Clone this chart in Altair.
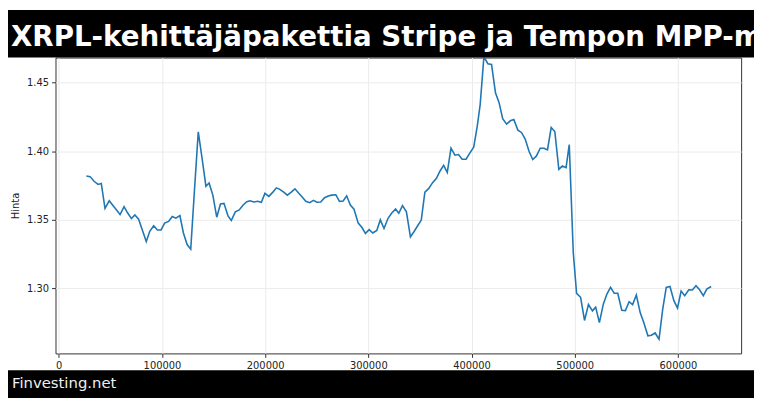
import altair as alt
import pandas as pd

# kuvasta luetut pisteet
x_vals = [
    26800, 30400, 34200, 38100, 41200, 44800, 48900, 52700, 56000, 59400,
    63300, 66500, 70400, 73800, 77400, 80900, 84800, 88200, 92000, 95600,
    99100, 102600, 106400, 110000, 113500, 117400, 120800, 124400, 127900, 131500,
    135200, 138900, 142600, 145700, 149300, 153100, 156700, 160100, 164000, 167200,
    171100, 174900, 178700, 182200, 185400, 188900, 192700, 196300, 199800, 203600,
    207500, 210900, 214200, 218000, 221500, 225300, 228900, 232400, 235900, 239400,
    243200, 246800, 250200, 253800, 257600, 261200, 264600, 268500, 272000, 275600,
    279000, 282600, 286100, 290200, 293800, 297200, 300800, 304300, 308200, 311600,
    315200, 319000, 322500, 326400, 329500, 333100, 336900, 340800, 344200, 347800,
    351300, 354800, 358600, 362100, 366000, 369500, 373000, 376500, 380100, 383900,
    387400, 390900, 394700, 398300, 402100, 405600, 408400, 412000, 415800, 419400,
    423200, 426700, 430200, 434000, 437600, 441000, 444900, 448400, 452000, 455800,
    459300, 462800, 466600, 470200, 473600, 477200, 480700, 484600, 488000, 491600,
    494700, 498600, 501800, 505700, 509500, 513300, 517200, 520300, 523900, 527700,
    531200, 534700, 538300, 541700, 545600, 549100, 552700, 556100, 559700, 563500,
    567000, 570900, 574300, 577900, 581700, 585300, 588700, 592300, 596100, 599600,
    603100, 606600, 610500, 614000, 617500, 621000, 624600, 628000, 632200,
]
prices = [
    1.3820, 1.3815, 1.3781, 1.3758, 1.3765, 1.3584, 1.3639, 1.3603, 1.3572, 1.3538,
    1.3596, 1.3553, 1.3509, 1.3536, 1.3505, 1.3428, 1.3341, 1.3416, 1.3457, 1.3426,
    1.3426, 1.3476, 1.3488, 1.3524, 1.3512, 1.3531, 1.3404, 1.3320, 1.3286, 1.3714,
    1.4142, 1.3947, 1.3745, 1.3769, 1.3680, 1.3519, 1.3615, 1.3620, 1.3529, 1.3495,
    1.3558, 1.3572, 1.3608, 1.3632, 1.3639, 1.3630, 1.3635, 1.3628, 1.3693, 1.3671,
    1.3702, 1.3733, 1.3722, 1.3702, 1.3680, 1.3702, 1.3726, 1.3695, 1.3666, 1.3635,
    1.3625, 1.3642, 1.3628, 1.3630, 1.3661, 1.3673, 1.3680, 1.3683, 1.3635, 1.3637,
    1.3675, 1.3608, 1.3577, 1.3476, 1.3444, 1.3401, 1.3428, 1.3404, 1.3423, 1.3500,
    1.3437, 1.3509, 1.3548, 1.3579, 1.3548, 1.3603, 1.3558, 1.3375, 1.3413, 1.3457,
    1.3498, 1.3702, 1.3729, 1.3769, 1.3803, 1.3856, 1.3897, 1.3846, 1.4022, 1.3971,
    1.3976, 1.3942, 1.3942, 1.3986, 1.4029, 1.4185, 1.4342, 1.4690, 1.4638, 1.4633,
    1.4426, 1.4354, 1.4238, 1.4198, 1.4222, 1.4231, 1.4154, 1.4137, 1.4089, 1.3998,
    1.3940, 1.3964, 1.4022, 1.4022, 1.4010, 1.4173, 1.4144, 1.3868, 1.3892, 1.3880,
    1.4048, 1.3260, 1.2964, 1.2935, 1.2766, 1.2882, 1.2836, 1.2863, 1.2750, 1.2885,
    1.2959, 1.3007, 1.2964, 1.2964, 1.2841, 1.2838, 1.2903, 1.2882, 1.2952, 1.2822,
    1.2750, 1.2654, 1.2658, 1.2675, 1.2629, 1.2851, 1.3007, 1.3014, 1.2911, 1.2856,
    1.2981, 1.2947, 1.2990, 1.2988, 1.3019, 1.2990, 1.2947, 1.2995, 1.3014,
]
x_ticks = [0, 100000, 200000, 300000, 400000, 500000, 600000]
y_ticks = [1.30, 1.35, 1.40, 1.45]

TITLE = "XRPL-kehittäjäpakettia Stripe ja Tempon MPP-maksuilla"
FOOTER = "Finvesting.net"

df = pd.DataFrame({"x": x_vals, "hinta": prices})
one = pd.DataFrame({"k": [0]})

W, H = 693, 299

line = alt.Chart(df).mark_line(color="#1f77b4", strokeWidth=1.6, clip=True).encode(
    x=alt.X("x:Q",
            scale=alt.Scale(domain=[-3164, 661265], nice=False, zero=False),
            axis=alt.Axis(values=x_ticks, format="d", title=None)),
    y=alt.Y("hinta:Q",
            scale=alt.Scale(domain=[1.2526, 1.4683], nice=False, zero=False),
            axis=alt.Axis(values=y_ticks, format=".2f", title="Hinta")),
)

top_bar = alt.Chart(one).mark_rect(color="black").encode(
    x=alt.value(-48), x2=alt.value(W + 13), y=alt.value(-48), y2=alt.value(0)
)
bottom_bar = alt.Chart(one).mark_rect(color="black").encode(
    x=alt.value(-48), x2=alt.value(W + 13), y=alt.value(316), y2=alt.value(H + 45)
)
title = alt.Chart(one).mark_text(
    text=TITLE, align="left", baseline="alphabetic", font="DejaVu Sans",
    fontWeight="bold", fontSize=28, color="white"
).encode(x=alt.value(-45), y=alt.value(-12))
footer = alt.Chart(one).mark_text(
    text=FOOTER, align="left", baseline="alphabetic", font="DejaVu Sans",
    fontSize=15, color="#eeeeee"
).encode(x=alt.value(-44), y=alt.value(334))

chart = alt.layer(line, top_bar, bottom_bar, title, footer).properties(
    width=W, height=H,
    background="white",
    autosize=alt.AutoSizeParams(type="none"),
    padding={"left": 48, "top": 48, "right": 13, "bottom": 45},
).configure_view(
    stroke="#333333", strokeWidth=1
).configure_axis(
    domain=False, grid=True, gridColor="#ebebeb", gridWidth=1,
    tickColor="#333333", tickSize=4, labelPadding=3,
    labelFont="DejaVu Sans", labelFontSize=10, labelColor="#222222",
    titleFont="DejaVu Sans", titleFontSize=10, titleFontWeight="normal",
    titleColor="#222222", titlePadding=6, zindex=0,
)

chart.save("out.html", embed_options={"renderer": "svg", "actions": False})
